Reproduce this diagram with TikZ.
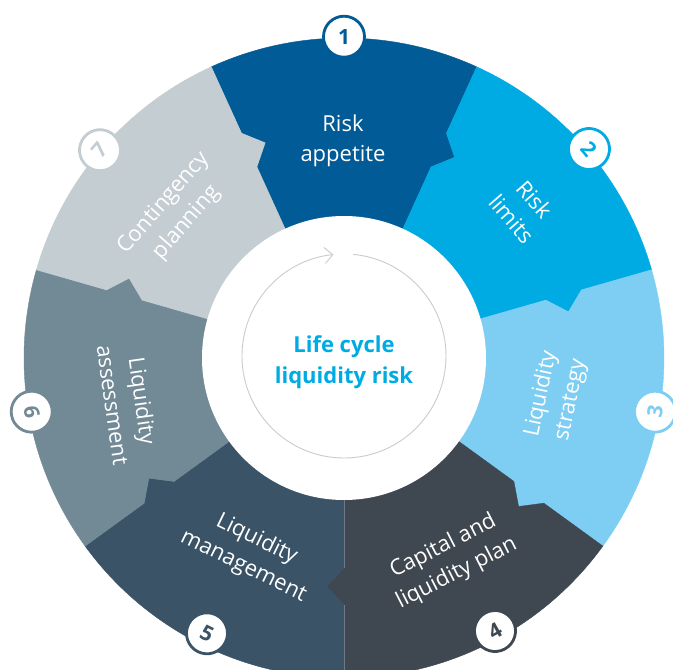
\documentclass[tikz,border=0pt]{standalone}
\usepackage{fontspec}
\setmainfont{Open Sans}
\usetikzlibrary{arrows.meta}
\definecolor{cA}{HTML}{005B96}
\definecolor{cB}{HTML}{00ABE4}
\definecolor{cC}{HTML}{7ECEF4}
\definecolor{cD}{HTML}{3F4750}
\definecolor{cE}{HTML}{3A5366}
\definecolor{cF}{HTML}{728A96}
\definecolor{cG}{HTML}{C4CDD2}
\definecolor{ringgray}{HTML}{C5CDD3}
\definecolor{seam}{HTML}{6E7B86}
% #1 colour, #2 start angle, #3 end angle (clockwise)
\newcommand\ringseg[3]{%
  \filldraw[fill=#1, draw=#1, line width=0.4pt]
    (0,0) -- (#2:210pt) -- ({#2-4.38}:229.2pt) -- (#2:247pt) -- (#2:320pt)
    arc[start angle=#2, end angle=#3, radius=320pt]
    -- (#3:247pt) -- ({#3-4.38}:229.2pt) -- (#3:210pt) -- cycle;}
\begin{document}
\begin{tikzpicture}[x=1pt,y=1pt,
  lbl/.style={text=white, align=center, font=\fontsize{22}{30}\selectfont},
  numc/.style={circle, draw=#1, fill=white, line width=2.8pt, minimum size=41pt,
    inner sep=0pt, text=#1, font=\bfseries\fontsize{21}{21}\selectfont}]
\useasboundingbox (-344,-312) rectangle (329,358);
\ringseg{cA}{114.5}{65.5}
\ringseg{cB}{65.5}{16}
\ringseg{cC}{16}{-36}
\ringseg{cD}{-36}{-90}
\ringseg{cE}{-90}{-144}
\ringseg{cF}{-144}{-196}
\ringseg{cG}{-196}{-245.5}
\draw[seam, line width=0.6pt] (0,-140) -- (0,-210) (0,-247) -- (0,-322);
\fill[white] (0,0) circle[radius=142pt];
\draw[ringgray, line width=0.9pt, -{Straight Barb[length=8pt,width=16pt]}]
  ([shift={(0,2)}]84.8:102pt) arc[start angle=84.8, end angle=-264, radius=102pt];
\node[font=\bfseries\fontsize{22}{31}\selectfont, text=cB, align=center] (ctr) at (0,-4) {Life cycle\\liquidity risk};
\node[lbl] (t1) at (-1,217) {Risk\\appetite};
\node[lbl, rotate=-49] (t2) at (179,149) {Risk\\limits};
\node[lbl, rotate=78] (t3) at (212,-39) {Liquidity\\strategy};
\node[lbl, rotate=27] (t4) at (106,-202) {Capital and\\liquidity plan};
\node[lbl, rotate=-26] (t5) at (-94,-195) {Liquidity\\management};
\node[lbl, rotate=-82] (t6) at (-216,-45) {Liquidity\\assessment};
\node[lbl, rotate=49] (t7) at (-168.5,145) {Contingency\\planning};
\node[numc=cA] (n1) at (0,321.3) {1};
\node[numc=cB, rotate=-49.5] (n2) at (245,209) {2};
\node[numc=cC, rotate=80] (n3) at (311,-53.7) {3};
\node[numc=cD, rotate=29] (n4) at (151,-273) {4};
\node[numc=cE, rotate=-26.5] (n5) at (-137,-275.3) {5};
\node[numc=cF, rotate=-80] (n6) at (-312.3,-53.7) {6};
\node[numc=cG, rotate=49.6] (n7) at (-244,207.8) {7};
\end{tikzpicture}
\end{document}
